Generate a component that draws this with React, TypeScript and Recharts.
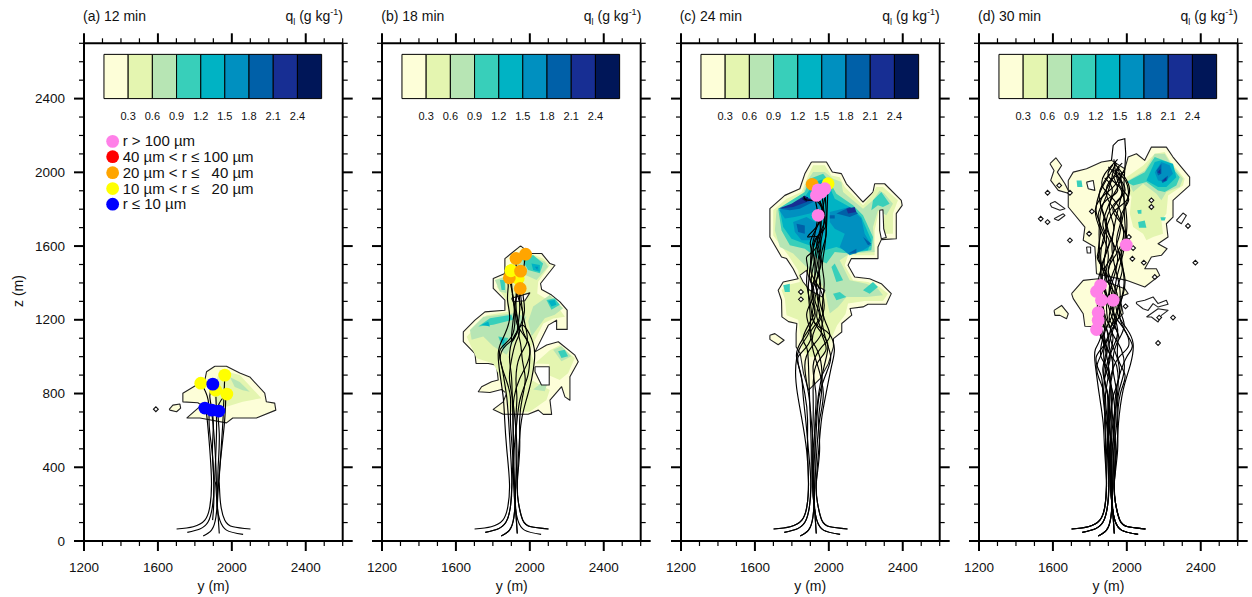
import React from 'react';
import { ScatterChart, Scatter, XAxis, YAxis, ReferenceArea } from 'recharts';

type P = [number, number];
const FONT = '"Liberation Sans", Arial, sans-serif';

const xTicks = [1200,1300,1400,1500,1600,1700,1800,1900,2000,2100,2200,2300,2400,2500,2600];
const xMajor = [1200,1600,2000,2400];
const zTicks = [0,100,200,300,400,500,600,700,800,900,1000,1100,1200,1300,1400,1500,1600,1700,1800,1900,2000,2100,2200,2300,2400,2500,2600,2700];
const zMajor = [0,400,800,1200,1600,2000,2400];

const levelColors = ['#FDFED8','#E4F5B0','#B7E5B4','#38CFBA','#00B3C4','#0090C0','#0060A8','#172E93','#001658'];
const levelLabels = ['0.3','0.6','0.9','1.2','1.5','1.8','2.1','2.4'];
const barEdges = [1308,1439,1570,1701,1832,1962,2093,2224,2355,2486];
const legendRows = [
  { y: 1355, z: 2168, color: '#FF80E8', text: 'r > 100 µm' },
  { y: 1355, z: 2085, color: '#FF0000', text: '40 µm < r ≤ 100 µm' },
  { y: 1355, z: 1998, color: '#FFA500', text: '20 µm < r ≤   40 µm' },
  { y: 1355, z: 1912, color: '#FFFF00', text: '10 µm < r ≤   20 µm' },
  { y: 1355, z: 1827, color: '#0000FF', text: 'r ≤ 10 µm' },
];

const B1: P[] = [[1701,65],[1791,77],[1854,113],[1881,186],[1890,312]];
const B2: P[] = [[1759,47],[1827,65],[1872,104],[1895,186],[1903,312]];
const B3: P[] = [[1845,27],[1890,59],[1914,131],[1921,240],[1917,312]];
const B4: P[] = [[1932,41],[1926,131],[1921,222],[1924,312]];
const B5: P[] = [[2101,65],[2007,77],[1962,113],[1939,204],[1932,312]];
const B6: P[] = [[2061,36],[1971,59],[1935,113],[1921,186],[1912,312]];

// Panel a
const aOutline: P[][] = [
  [[1908,948],[1971,948],[2043,911],[2097,890],[2178,802],[2187,755],[2232,748],[2238,710],[2133,667],[2005,667],[1971,641],[1827,667],[1757,668],[1836,737],[1816,750],[1735,755],[1735,802],[1854,873],[1863,918]],
  [[1661,714],[1681,737],[1719,743],[1723,721],[1701,701],[1665,710]],
];
const aFills: P[][][] = [
  [[[1935,927],[2043,900],[2160,775],[2059,755],[1971,728],[1917,737],[1897,810]]],
  [[[1989,890],[2043,863],[2097,810],[2059,818],[2016,836]]],
];
const aSpecks: P[] = [[1589,715]];
const aTracks: P[][] = [
  [...B1,[1881,493],[1867,656],[1859,719]],
  [...B2,[1895,493],[1899,656],[1881,782],[1897,851]],
  [...B3,[1914,403],[1903,583],[1890,710]],
  [...B4,[1926,403],[1932,583],[1926,728],[1973,797]],
  [...B5,[1932,348],[1944,529],[1953,674],[1962,900]],
  [...B6,[1908,348],[1917,583],[1914,782]],
  [[1896,113],[1903,240],[1896,457],[1878,619],[1872,764],[1832,857]],
  [[1921,186],[1935,400],[1959,628],[1968,800]],
];
const aDots = [
  { y: 1832, z: 856, c: 3 },{ y: 1962, z: 900, c: 3 },{ y: 1913, z: 818, c: 3 },{ y: 1973, z: 797, c: 3 },
  { y: 1897, z: 851, c: 4 },{ y: 1854, z: 721, c: 4 },{ y: 1892, z: 710, c: 4 },{ y: 1930, z: 705, c: 4 },
];

// Panel b
const bOutline: P[][] = [
  [[1950,1601],[2000,1560],[2064,1560],[2109,1505],[2136,1496],[2058,1397],[2064,1364],[2118,1334],[2163,1297],[2202,1252],[2202,1148],[2145,1148],[2145,1198],[2100,1171],[2028,1026],[2091,1063],[2154,1081],[2244,1008],[2262,972],[2217,891],[2217,764],[2190,782],[2172,837],[2109,764],[2118,687],[2073,687],[2046,710],[1991,688],[1856,688],[1802,714],[1856,755],[1874,801],[1847,822],[1784,806],[1721,810],[1739,837],[1793,864],[1829,873],[1820,954],[1775,963],[1709,963],[1703,1017],[1640,1081],[1640,1135],[1703,1198],[1757,1243],[1865,1252],[1865,1307],[1802,1370],[1802,1424],[1865,1451],[1865,1532]],
];
const bFills: P[][][] = [
  [
    [[1883,1487],[1955,1578],[2072,1532],[2108,1496],[2045,1406],[2040,1343],[2145,1279],[2190,1216],[2127,1207],[2073,1180],[2000,1035],[2027,963],[2009,873],[2108,819],[2090,765],[2000,701],[1892,701],[1874,783],[1838,892],[1802,963],[1712,991],[1658,1108],[1766,1225],[1883,1243],[1874,1307],[1820,1379],[1874,1433]],
    [[2027,963],[2108,1035],[2162,1062],[2243,991],[2207,910],[2162,874],[2100,900],[2105,960]],
  ],
  [
    [[1910,1506],[1982,1560],[2081,1515],[2099,1488],[2036,1416],[1955,1452]],
    [[2018,1272],[2108,1335],[2180,1263],[2135,1227],[2081,1209],[2009,1110],[1991,1191]],
    [[1676,1144],[1748,1217],[1910,1235],[1982,1217],[1910,1074],[1874,1011],[1802,1056],[1748,1110],[1685,1092]],
    [[1811,1416],[1865,1434],[1874,1344],[1838,1353]],
    [[2126,1038],[2171,1056],[2225,1002],[2171,975]],
    [[2018,822],[2108,894],[2081,813]],
  ],
  [
    [[1955,1533],[2018,1551],[2072,1506],[2054,1452],[1991,1470]],
    [[1838,1416],[1865,1416],[1865,1362],[1847,1362]],
    [[2090,1308],[2135,1317],[2162,1281],[2117,1254]],
    [[1721,1164],[1784,1209],[1901,1227],[1910,1200],[1802,1173]],
    [[1829,1110],[1883,1101],[1856,1038]],
    [[2153,1029],[2189,1038],[2207,1002],[2171,993]],
  ],
  [
    [[2009,1506],[2054,1497],[2054,1461],[2018,1470]],
    [[2099,1304],[2135,1308],[2144,1281],[2117,1272]],
    [[1739,1173],[1775,1191],[1784,1164]],
    [[1838,1101],[1865,1092],[1856,1065]],
  ],
  [[[2027,1488],[2045,1488],[2040,1470]]],
];
const bHoles: P[][] = [
  [[2028,945],[2105,945],[2105,846],[2063,846],[2028,918]],
  [[1901,1317],[2000,1346],[1973,1303],[1910,1298]],
];
const bTracks: P[][] = [
  [...B1,[1875,500],[1864,656],[1856,780],[1838,909],[1829,1017],[1850,1090],[1890,1200],[1880,1300],[1883,1379],[1878,1415]],
  [...B2,[1895,493],[1885,656],[1875,780],[1860,880],[1845,960],[1840,1040],[1901,1108],[1919,1216],[1910,1307],[1896,1450]],
  [...B3,[1914,403],[1909,656],[1905,780],[1900,900],[1890,1000],[1910,1100],[1950,1170],[1960,1250],[1935,1330],[1940,1424]],
  [...B4,[1926,403],[1925,656],[1930,780],[1925,880],[1945,1000],[1985,1080],[1975,1170],[1960,1250],[1950,1340],[1948,1370]],
  [...B5,[1940,493],[1955,656],[1985,780],[2010,880],[2025,980],[2018,1072],[1973,1162],[1937,1144],[1901,1090],[1919,1270],[1928,1379],[1925,1533]],
  [...B6,[1915,493],[1931,656],[1950,780],[1990,900],[2000,1000],[1995,1070],[1960,1150],[1970,1240],[1965,1320],[1960,1410],[1977,1556]],
  [...B3,[1905,500],[1895,656],[1895,780],[1870,880],[1840,990],[1870,1060],[1920,1110],[1935,1190],[1925,1290],[1950,1464]],
  [...B2,[1910,493],[1909,656],[1915,780],[1945,880],[1980,950],[2000,1040],[1965,1120],[1930,1180],[1915,1290],[1889,1428]],
  [...B5,[1945,493],[1945,656],[1960,780],[1975,880],[1960,980],[1950,1070],[1935,1150],[1945,1250],[1937,1424]],
  [...B4,[1930,493],[1920,656],[1905,780],[1890,880],[1900,980],[1925,1080],[1945,1140],[1925,1240],[1905,1340]],
];
const bDots = [
  { y: 1898, z: 1466, c: 3 },{ y: 1937, z: 1424, c: 3 },
  { y: 1889, z: 1428, c: 2 },{ y: 1898, z: 1466, c: 3 },
  { y: 1925, z: 1533, c: 2 },{ y: 1977, z: 1556, c: 2 },{ y: 1950, z: 1464, c: 2 },{ y: 1948, z: 1370, c: 2 },
];

// Panel c
const cOutline: P[][] = [
  [[1906,2056],[1987,2056],[2019,2002],[2068,1993],[2095,1938],[2185,1839],[2239,1893],[2248,1938],[2302,1938],[2392,1848],[2397,1821],[2365,1776],[2365,1640],[2284,1635],[2266,1595],[2266,1532],[2122,1532],[2104,1496],[2140,1432],[2221,1423],[2284,1396],[2338,1342],[2311,1284],[2212,1284],[2185,1270],[2115,1261],[2124,1225],[2070,1180],[2070,1134],[2025,1098],[2025,1053],[1998,963],[1953,881],[1908,836],[1890,818],[1863,909],[1845,1017],[1823,1053],[1823,1125],[1827,1180],[1782,1190],[1746,1216],[1744,1306],[1726,1360],[1753,1405],[1834,1423],[1807,1477],[1771,1532],[1744,1541],[1681,1649],[1681,1803],[1762,1875],[1843,1911],[1870,1992]],
  [[1681,1116],[1708,1125],[1758,1089],[1726,1065],[1681,1094]],
];
const cFills: P[][][] = [
  [[[1915,2038],[1978,2038],[2014,1983],[2059,1974],[2086,1920],[2185,1821],[2230,1875],[2257,1920],[2293,1920],[2374,1848],[2347,1776],[2347,1667],[2293,1667],[2302,1794],[2275,1812],[2248,1685],[2248,1550],[2104,1550],[2086,1496],[2131,1414],[2212,1405],[2275,1378],[2320,1342],[2293,1302],[2194,1302],[2104,1288],[2090,1230],[2045,1170],[2010,1090],[1985,1010],[1950,1000],[1900,1000],[1860,1030],[1843,1143],[1834,1200],[1771,1225],[1762,1315],[1744,1360],[1771,1387],[1843,1405],[1834,1468],[1780,1550],[1699,1658],[1699,1794],[1771,1857],[1852,1893],[1888,1983]]],
  [[[1915,2002],[1978,2002],[2023,1965],[2068,1947],[2077,1893],[2185,1803],[2239,1848],[2275,1902],[2302,1884],[2347,1830],[2311,1767],[2266,1794],[2239,1703],[2248,1568],[2113,1559],[2059,1523],[2113,1414],[2203,1396],[2266,1369],[2293,1333],[2203,1324],[2095,1324],[2050,1270],[2005,1234],[1978,1360],[1942,1432],[1879,1486],[1807,1559],[1735,1595],[1708,1685],[1717,1794],[1789,1839],[1861,1884],[1879,1947]]],
  [
    [[1726,1803],[1798,1848],[1870,1893],[1897,1965],[1969,1992],[2005,1947],[2041,1884],[2131,1821],[2185,1767],[2239,1649],[2230,1577],[2113,1559],[2032,1568],[1987,1505],[1951,1523],[1870,1586],[1789,1604],[1744,1685]],
    [[2239,1848],[2284,1893],[2329,1830],[2293,1812],[2266,1821],[2230,1794]],
    [[2023,1342],[2059,1351],[2095,1324],[2041,1306]],
    [[2185,1360],[2239,1405],[2266,1378],[2221,1342]],
    [[2014,1486],[2032,1505],[2077,1414],[2041,1405]],
    [[1753,1387],[1789,1396],[1789,1351],[1762,1351]],
  ],
  [[[1735,1794],[1807,1830],[1870,1866],[1924,1947],[1978,1965],[2005,1920],[2032,1857],[2131,1803],[2176,1758],[2230,1631],[2212,1577],[2113,1568],[2041,1595],[1978,1577],[1870,1613],[1798,1640],[1753,1703]]],
  [
    [[1731,1797],[1807,1826],[1879,1857],[1933,1848],[1960,1812],[1897,1776],[1816,1758],[1762,1749]],
    [[1807,1731],[1879,1758],[1942,1721],[1978,1676],[1933,1631],[1852,1631],[1816,1676]],
    [[2005,1785],[2113,1812],[2176,1749],[2194,1667],[2230,1604],[2185,1577],[2113,1550],[2059,1595],[2086,1667],[2032,1694],[2005,1730]],
  ],
  [
    [[1735,1803],[1807,1830],[1870,1866],[1933,1848],[1843,1803],[1789,1794]],
    [[2041,1776],[2113,1812],[2158,1776],[2113,1758]],
    [[1825,1721],[1870,1712],[1870,1667],[1834,1676]],
    [[2104,1559],[2149,1586],[2149,1559]],
    [[2185,1649],[2230,1613],[2212,1604]],
    [[2005,1767],[2032,1767],[2032,1749],[2005,1749]],
  ],
  [
    [[1726,1803],[1798,1830],[1870,1875],[1906,1848],[1807,1812]],
    [[2095,1803],[2140,1812],[2149,1785],[2104,1776]],
  ],
  [[[1852,1857],[1888,1866],[1879,1839]]],
];
const cHoles: P[][] = [
  [[2275,1794],[2293,1797],[2297,1694],[2311,1646],[2284,1640],[2275,1685]],
  [[1843,1441],[1879,1468],[1901,1405],[1978,1360],[1965,1324],[1897,1360],[1861,1405]],
];
const cSpecks: P[] = [[1849,1351],[1849,1311]];
const cTracks: P[][] = [
  [...B1,[1880,490],[1855,656],[1830,800],[1820,920],[1840,1040],[1890,1125],[1900,1215],[1892,1306],[1890,1396],[1900,1486],[1905,1577],[1925,1667],[1942,1767]],
  [...B2,[1890,490],[1875,656],[1860,800],[1850,900],[1825,1000],[1855,1090],[1925,1215],[1905,1306],[1915,1396],[1935,1486],[1950,1577],[1965,1667],[1975,1758],[1960,1893]],
  [...B3,[1915,490],[1905,656],[1890,800],[1870,950],[1905,1050],[1960,1130],[1935,1215],[1945,1306],[1925,1396],[1925,1486],[1915,1577],[1935,1650],[1980,1700],[1985,1800],[1978,1911]],
  [...B4,[1925,490],[1925,656],[1930,800],[1915,950],[1960,1050],[2005,1110],[1985,1180],[1965,1270],[1975,1396],[1965,1486],[1975,1577],[1985,1667],[1990,1770],[1996,1938]],
  [...B5,[1945,490],[1960,656],[1985,800],[2015,950],[2030,1040],[2005,1120],[1950,1160],[1910,1215],[1920,1306],[1905,1396],[1915,1486],[1930,1577],[1950,1667],[1980,1758],[1933,1875]],
  [...B6,[1915,490],[1930,656],[1945,800],[1975,950],[1995,1060],[1960,1130],[1915,1200],[1900,1290],[1880,1400],[1885,1486],[1880,1540],[1920,1577],[1955,1660],[1945,1758],[1910,1935]],
  [...B5,[1950,490],[1945,656],[1960,800],[1960,950],[1930,1050],[1900,1130],[1950,1215],[1925,1306],[1950,1396],[1945,1486],[1955,1577],[1940,1650],[1885,1650],[1930,1700],[1965,1780],[1950,1850]],
  [...B2,[1905,490],[1900,656],[1895,800],[1890,950],[1880,1050],[1860,1100],[1900,1190],[1925,1260],[1910,1350],[1945,1450],[1960,1560],[1985,1660],[1975,1760],[1940,1840],[1880,1850],[1865,1870]],
  [...B3,[1910,490],[1915,656],[1915,800],[1930,950],[1985,1040],[1960,1130],[1970,1215],[1950,1306],[1955,1396],[1930,1486],[1940,1577],[1955,1667],[1960,1758],[1978,1860]],
  [...B1,[1885,490],[1885,656],[1870,800],[1835,960],[1850,1020],[1905,1110],[1880,1230],[1920,1340],[1895,1440],[1910,1540],[1900,1620],[1935,1700],[1965,1800]],
  [...B6,[1925,490],[1935,656],[1950,800],[1990,920],[2010,1000],[1985,1090],[1960,1200],[1940,1306],[1935,1420],[1960,1520],[1935,1600],[1955,1700],[1950,1800]],
  [...B4,[1935,490],[1950,656],[1970,800],[1940,950],[1910,1060],[1925,1150],[1970,1240],[1960,1350],[1910,1440],[1905,1520],[1925,1620],[1970,1690]],
];
const cDots = [
  { y: 1996, z: 1938, c: 3 },{ y: 1910, z: 1935, c: 2 },
  { y: 1942, z: 1905, c: 0 },{ y: 1978, z: 1911, c: 0 },{ y: 1933, z: 1875, c: 0 },{ y: 1960, z: 1893, c: 0 },{ y: 1942, z: 1767, c: 0 },
];

// Panel d
const dOutline: P[][] = [
  [[1683,1956],[1710,2001],[1782,2019],[1863,2056],[1917,2065],[1989,2019],[2007,2083],[2052,2101],[2097,2065],[2133,2137],[2214,2137],[2250,2083],[2340,1974],[2340,1929],[2250,1848],[2250,1757],[2214,1721],[2223,1649],[2169,1613],[2218,1586],[2187,1550],[2133,1541],[2097,1477],[2160,1477],[2178,1441],[2097,1378],[1998,1414],[1836,1450],[1827,1595],[1764,1631],[1773,1703],[1683,1812],[1683,1902]],
  [[1701,1342],[1764,1414],[1845,1423],[1989,1369],[2007,1342],[1962,1324],[1980,1233],[1908,1161],[1773,1165],[1764,1233],[1710,1315]],
  [[1584,2047],[1616,2079],[1647,2037],[1624,2001],[1665,1938],[1692,1884],[1629,1902],[1588,1956],[1606,2010]],
  [[1606,1251],[1647,1278],[1683,1233],[1674,1206],[1638,1224],[1611,1224]],
];
const dFills: P[][][] = [
  [[[1998,1974],[2088,2037],[2151,2101],[2205,2110],[2232,2065],[2313,1965],[2304,1929],[2223,1875],[2214,1775],[2187,1739],[2196,1667],[2142,1649],[2106,1631],[2088,1667],[2034,1703],[2016,1775],[2025,1866],[1998,1920]]],
  [[[2007,1956],[2097,2010],[2151,2101],[2205,2101],[2232,2056],[2304,1965],[2286,1920],[2214,1893],[2187,1848],[2160,1884],[2088,1938],[2034,1893]]],
  [
    [[1998,1947],[2097,2001],[2151,2083],[2223,2056],[2286,1974],[2268,1929],[2205,1893],[2169,1902],[2106,1947],[2034,1929]],
    [[1728,1956],[1755,1956],[1760,1920],[1732,1920]],
    [[2061,1730],[2097,1739],[2106,1700],[2066,1700]],
    [[2056,1794],[2079,1797],[2079,1775],[2061,1775]],
    [[2182,1757],[2211,1757],[2205,1739],[2187,1739]],
  ],
  [[[2106,1956],[2151,2056],[2187,2065],[2250,2047],[2268,1974],[2214,1920],[2169,1920]]],
  [[[2151,2001],[2187,2056],[2232,2038],[2250,1992],[2205,1947],[2169,1956]]],
  [
    [[2160,2010],[2187,2047],[2187,1992],[2169,1983]],
    [[2187,1956],[2223,1983],[2218,1956],[2193,1942]],
  ],
  [
    [[2167,2001],[2182,2019],[2182,1992]],
    [[2193,1952],[2214,1974],[2211,1956]],
  ],
];
const dHoles: P[][] = [
  [[1782,1947],[1818,1956],[1827,1902],[1791,1911]],
  [[1584,1830],[1611,1842],[1665,1803],[1638,1794],[1593,1812]],
  [[1606,1748],[1656,1775],[1665,1766],[1629,1739]],
  [[2268,1739],[2304,1779],[2322,1766],[2295,1721]],
  [[1782,1595],[1804,1595],[1804,1562],[1786,1562]],
  [[2052,1297],[2097,1306],[2142,1324],[2169,1288],[2214,1306],[2223,1284],[2169,1269],[2142,1288],[2115,1251],[2088,1260],[2052,1288]],
  [[2106,1215],[2169,1260],[2223,1251],[2187,1224],[2169,1188],[2133,1215]],
];
const dEdge: P[] = [[1997,1606],[1985,1800],[1985,1950],[1994,2101],[1989,2182],[1953,2173],[1926,2146],[1917,2065]];
const dSpecks: P[] = [[1571,1889],[1634,1929],[1692,1889],[1534,1748],[1571,1730],[1692,1631],[1811,1788],[1796,1667],[2011,1649],[2034,1589],[2030,1531],[2092,1510],[2151,1432],[2371,1510],[2331,1709],[2133,1848],[2133,1812],[1993,1273],[2250,1212],[2175,1212],[2169,1074]];
const dTracks: P[][] = [
  [...B1,[1880,490],[1872,640],[1850,800],[1830,950],[1830,1040],[1860,1120],[1840,1250],[1860,1400],[1855,1530],[1850,1660],[1860,1790],[1900,1900],[1925,2000],[1940,2060]],
  [...B2,[1895,490],[1895,640],[1885,800],[1900,920],[1860,1000],[1870,1100],[1880,1230],[1845,1387],[1870,1500],[1890,1650],[1870,1780],[1860,1850],[1920,1960],[1960,2030]],
  [...B3,[1915,490],[1905,640],[1910,800],[1915,900],[1960,1000],[2010,1060],[1985,1150],[1930,1230],[1926,1306]],
  [...B4,[1925,490],[1930,640],[1940,800],[1960,900],[2000,1000],[2030,1060],[1990,1140],[1960,1250],[1985,1400],[1970,1550],[1997,1606]],
  [...B5,[1945,490],[1955,640],[1980,818],[2020,960],[2034,1071],[2000,1150],[1945,1250],[1940,1400],[1975,1540],[2000,1700],[1990,1830],[1960,1920],[1900,1980],[1925,2040]],
  [...B6,[1915,490],[1925,640],[1950,800],[1945,950],[1905,1020],[1880,1130],[1930,1260],[1900,1420],[1925,1560],[1960,1660],[1985,1790],[2015,1900],[1985,1980],[1940,2040]],
  [...B1,[1885,490],[1885,640],[1870,800],[1860,900],[1835,1000],[1900,1100],[1850,1197]],
  [...B2,[1900,490],[1905,640],[1920,800],[1900,950],[1930,1060],[1950,1150],[1910,1280],[1880,1410],[1900,1550],[1860,1680],[1830,1800],[1880,1880],[1935,1930],[1990,2020]],
  [...B3,[1910,490],[1915,640],[1925,780],[1960,900],[1935,1030],[1910,1140],[1960,1290],[1950,1430],[1920,1580],[1935,1720],[1960,1830],[1975,1920],[1950,2030]],
  [...B4,[1930,490],[1945,640],[1955,800],[1985,920],[1970,1040],[1925,1120],[1890,1260],[1920,1400],[1950,1540],[1910,1650],[1880,1760],[1850,1880],[1905,1990]],
  [...B5,[1950,490],[1950,640],[1965,800],[1990,900],[1950,1000],[1950,1130],[1905,1210],[1925,1350],[1880,1480],[1900,1600],[1930,1700],[1905,1810],[1945,1910],[1975,1990]],
  [...B6,[1920,490],[1935,640],[1925,800],[1895,900],[1875,1030],[1920,1150],[1970,1270],[1905,1390],[1860,1520],[1870,1630],[1925,1780],[2000,1850],[1995,1950],[1930,2010]],
  [...B1,[1890,490],[1880,640],[1880,780],[1850,880],[1840,960],[1875,1060],[1836,1147]],
  [...B2,[1905,490],[1895,640],[1900,780],[1880,880],[1910,1000],[1860,1110],[1845,1239]],
  [...B3,[1905,490],[1900,640],[1895,800],[1870,930],[1890,1050],[1845,1197]],
  [...B4,[1925,490],[1900,640],[1895,800],[1875,920],[1900,1080],[1870,1240],[1858,1387]],
  [...B5,[1935,490],[1925,640],[1915,800],[1905,920],[1880,1060],[1850,1200],[1836,1354]],
  [...B6,[1905,490],[1890,640],[1875,800],[1890,950],[1925,1100],[1890,1200],[1863,1306]],
  [...B5,[1940,490],[1935,640],[1945,800],[1925,930],[1945,1070],[1985,1180],[1940,1330],[1975,1470],[1945,1620],[1970,1750],[1930,1850],[1870,1920],[1880,1990],[1950,2070]],
  [...B6,[1910,490],[1915,640],[1905,800],[1925,950],[1905,1070],[1935,1200],[1905,1350],[1940,1490],[1985,1630],[1950,1770],[1895,1860],[1905,1950],[1985,2000]],
  [[1880,1450],[1845,1560],[1860,1700],[1835,1780],[1850,1880],[1890,1960],[1945,2050]],
  [[1905,1300],[1870,1450],[1930,1580],[1890,1700],[1925,1820],[1975,1880],[1960,1960],[1900,2030]],
  [[1950,1250],[1990,1420],[1960,1560],[2000,1640],[1965,1750],[2010,1850],[1960,1930],[1930,2070]],
  [[1880,1150],[1855,1300],[1890,1440],[1840,1540],[1880,1640],[1845,1750],[1890,1850],[1950,1900],[1920,1990]],
  [[1930,1150],[1950,1330],[1900,1460],[1945,1560],[1980,1700],[1925,1800],[1990,1900],[1945,1990],[1975,2050]],
  [[1960,1100],[1905,1260],[1880,1350],[1860,1480],[1905,1620],[1870,1720],[1920,1880],[1880,1970]],
];
const dDots = [
  { y: 1997, z: 1606, c: 0 },{ y: 1858, z: 1387, c: 0 },{ y: 1836, z: 1354, c: 0 },{ y: 1863, z: 1306, c: 0 },
  { y: 1926, z: 1306, c: 0 },{ y: 1845, z: 1239, c: 0 },{ y: 1845, z: 1197, c: 0 },{ y: 1836, z: 1147, c: 0 },
];

const panels = [
  { left: 84, title: '(a) 12 min', outline: aOutline, fills: aFills, holes: [] as P[][], specks: aSpecks, tracks: aTracks, dots: aDots, edge: [] as P[], legend: true, labels: true },
  { left: 382.3, title: '(b) 18 min', outline: bOutline, fills: bFills, holes: bHoles, specks: [] as P[], tracks: bTracks, dots: bDots, edge: [] as P[], legend: false, labels: false },
  { left: 680.7, title: '(c) 24 min', outline: cOutline, fills: cFills, holes: cHoles, specks: cSpecks, tracks: cTracks, dots: cDots, edge: [] as P[], legend: false, labels: false },
  { left: 979, title: '(d) 30 min', outline: dOutline, fills: dFills, holes: dHoles, specks: dSpecks, tracks: dTracks, dots: dDots, edge: dEdge, legend: false, labels: false },
];

const toRows = (pts: P[]) => pts.map(([y, z]) => ({ y, z }));
const closed = (pts: P[]) => toRows([...pts, pts[0]]);
const noDot = () => <g />;
const ink = '#111';
const lineCol = '#000';

const Poly = (key: string, pts: P[], fill: string, stroke: string) => (
  <Scatter key={key} data={closed(pts)} dataKey="z" line={{ fill, stroke, strokeWidth: 1.1, strokeLinejoin: 'round' }} lineJointType="linear" shape={noDot} isAnimationActive={false} legendType="none" />
);

const Track = (key: string, pts: P[], type: string) => (
  <Scatter key={key} data={toRows(pts)} dataKey="z" line={{ fill: 'none', stroke: lineCol, strokeWidth: 1.15 }} lineJointType={type as any} shape={noDot} isAnimationActive={false} legendType="none" />
);

const tickText = { fontFamily: FONT, fontSize: 13.5, fill: ink };

const makeXTick = (side: 'bottom' | 'top') => (p: any) => {
  const v = p.payload.value;
  const major = xMajor.includes(v);
  const len = (major ? 10 : 5) * (side === 'bottom' ? 1 : -1);
  return (
    <g>
      <line x1={p.x} x2={p.x} y1={p.y} y2={p.y + len} stroke="#000" strokeWidth={major ? 2 : 1.2} />
      {side === 'bottom' && major ? <text x={p.x} y={p.y + 31} textAnchor="middle" {...tickText}>{v}</text> : null}
    </g>
  );
};
const makeZTick = (side: 'left' | 'right', labels: boolean) => (p: any) => {
  const v = p.payload.value;
  const major = zMajor.includes(v);
  const len = (major ? 10 : 5) * (side === 'right' ? 1 : -1);
  return (
    <g>
      <line x1={p.x} x2={p.x + len} y1={p.y} y2={p.y} stroke="#000" strokeWidth={major ? 2 : 1.2} />
      {side === 'left' && labels && major ? <text x={p.x - 19} y={p.y + 4.5} textAnchor="end" {...tickText}>{v}</text> : null}
    </g>
  );
};

const axisLine = { stroke: '#000', strokeWidth: 2 };
const CHART_W = 360;

function Panel({ cfg }: { cfg: (typeof panels)[number] }) {
  const labelRows = levelLabels.map((t, i) => ({ y: barEdges[i + 1], z: 2303, t }));
  return (
    <div style={{ position: 'absolute', left: cfg.left - 84, top: 0, width: CHART_W, height: 597 }}>
      <ScatterChart width={CHART_W} height={597} margin={{ left: 83, right: CHART_W - 84 - 258.7 - 1, top: 42.3, bottom: 55 }}>
        <XAxis xAxisId={0} type="number" dataKey="y" domain={[1200, 2600]} ticks={xTicks} interval={0} height={1} tickLine={false} tickSize={0} tickMargin={0} axisLine={axisLine} tick={makeXTick('bottom')} allowDataOverflow />
        <XAxis xAxisId="top" orientation="top" type="number" dataKey="y" domain={[1200, 2600]} ticks={xTicks} interval={0} height={1} tickLine={false} tickSize={0} tickMargin={0} axisLine={axisLine} tick={makeXTick('top')} allowDataOverflow />
        <YAxis yAxisId={0} type="number" dataKey="z" domain={[0, 2700]} ticks={zTicks} interval={0} width={1} tickLine={false} tickSize={0} tickMargin={0} axisLine={axisLine} tick={makeZTick('left', cfg.labels)} allowDataOverflow />
        <YAxis yAxisId="right" orientation="right" type="number" dataKey="z" domain={[0, 2700]} ticks={zTicks} interval={0} width={1} tickLine={false} tickSize={0} tickMargin={0} axisLine={axisLine} tick={makeZTick('right', false)} allowDataOverflow />

        {levelColors.map((c, i) => (
          <ReferenceArea key={'bar' + i} x1={barEdges[i]} x2={barEdges[i + 1]} y1={2400} y2={2640} fill={c} fillOpacity={1} stroke="#000" strokeWidth={1} ifOverflow="visible" />
        ))}
        <Scatter data={labelRows} dataKey="z" isAnimationActive={false} legendType="none" shape={(p: any) => (
          <text x={p.cx} y={p.cy + 3.5} textAnchor="middle" fontFamily={FONT} fontSize={11} fill={ink}>{p.payload.t}</text>
        )} />

        {cfg.outline.map((pts, i) => Poly('o' + i, pts, levelColors[0], '#222'))}
        {cfg.fills.flatMap((group, lv) => group.map((pts, i) => Poly(`f${lv}-${i}`, pts, levelColors[lv + 1], 'none')))}
        {cfg.holes.map((pts, i) => Poly('h' + i, pts, '#fff', '#222'))}
        {cfg.specks.length ? (
          <Scatter data={toRows(cfg.specks)} dataKey="z" isAnimationActive={false} legendType="none" shape={(p: any) => (
            <path d={`M${p.cx - 2.4} ${p.cy}L${p.cx} ${p.cy - 2.4}L${p.cx + 2.4} ${p.cy}L${p.cx} ${p.cy + 2.4}Z`} fill="#fff" stroke="#111" strokeWidth={1.1} />
          )} />
        ) : null}
        {cfg.edge.length ? Track('edge', cfg.edge, 'linear') : null}
        {cfg.tracks.map((pts, i) => Track('t' + i, pts, 'natural'))}
        <Scatter data={cfg.dots} dataKey="z" isAnimationActive={false} legendType="none" shape={(p: any) => (
          <circle cx={p.cx} cy={p.cy} r={6.4} fill={legendRows[p.payload.c].color} />
        )} />
        {cfg.legend ? (
          <Scatter data={legendRows} dataKey="z" isAnimationActive={false} legendType="none" shape={(p: any) => (
            <g>
              <circle cx={p.cx} cy={p.cy} r={6.4} fill={p.payload.color} />
              <text x={p.cx + 10} y={p.cy + 5} fontFamily={FONT} fontSize={15} fill={ink} style={{ whiteSpace: 'pre' }}>{p.payload.text}</text>
            </g>
          )} />
        ) : null}
      </ScatterChart>
    </div>
  );
}

const textBase: React.CSSProperties = { position: 'absolute', fontFamily: FONT, fontSize: 14, color: ink, whiteSpace: 'nowrap', lineHeight: '16px' };

export default function App() {
  return (
    <div style={{ position: 'absolute', left: 0, top: 0, width: 1252, height: 597, background: '#fff', overflow: 'hidden' }}>
      {panels.map((cfg) => <Panel key={cfg.title} cfg={cfg} />)}
      {panels.map((cfg) => (
        <React.Fragment key={'t' + cfg.title}>
          <div style={{ ...textBase, left: cfg.left - 1, top: 8 }}>{cfg.title}</div>
          <div style={{ ...textBase, right: 1252 - cfg.left - 259, top: 8 }}>
            q<sub style={{ fontSize: 9, lineHeight: 0 }}>l</sub> (g kg<sup style={{ fontSize: 9, lineHeight: 0 }}>-1</sup>)
          </div>
          <div style={{ ...textBase, left: cfg.left + 129.5, top: 578, transform: 'translateX(-50%)' }}>y (m)</div>
        </React.Fragment>
      ))}
      <div style={{ ...textBase, left: 18, top: 291, transform: 'translate(-50%,-50%) rotate(-90deg)' }}>z (m)</div>
    </div>
  );
}
